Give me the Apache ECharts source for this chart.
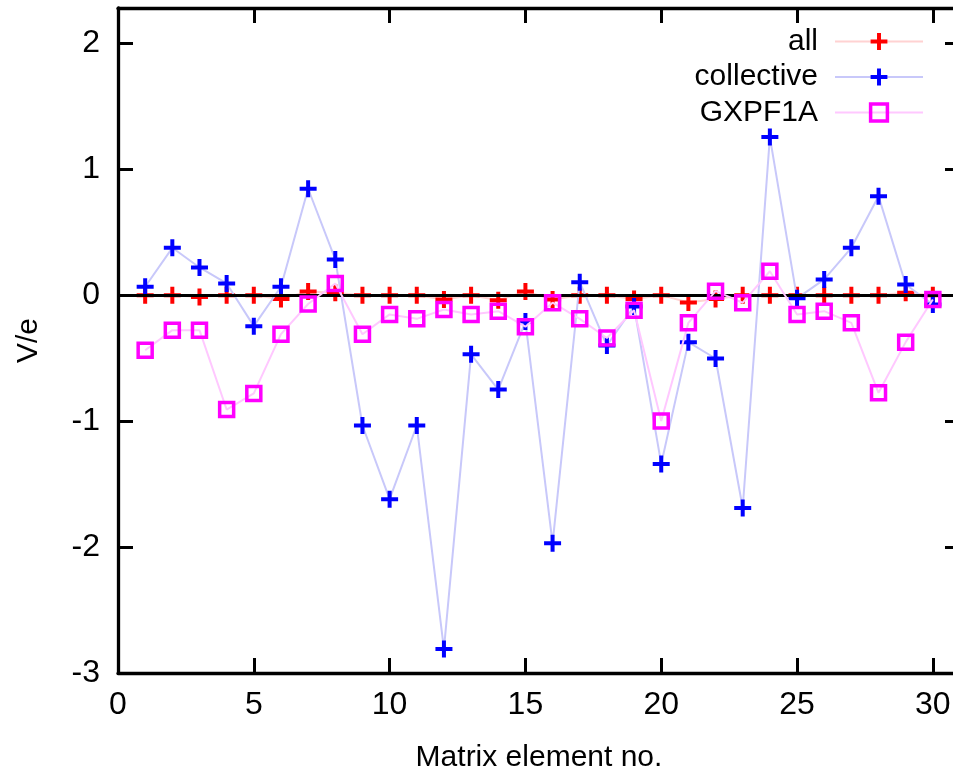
<!DOCTYPE html>
<html>
<head>
<meta charset="utf-8">
<script src="https://cdn.jsdelivr.net/npm/echarts@6/dist/echarts.min.js"></script>
<style>
html,body{margin:0;padding:0;background:#fff;}
#chart{width:953px;height:772px;}
</style>
</head>
<body>
<div id="chart"></div>
<script>
// ---- data ----
var elementNo = [1,2,3,4,5,6,7,8,9,10,11,12,13,14,15,16,17,18,19,20,21,22,23,24,25,26,27,28,29,30];
var allValues = [0, 0, -0.015, 0, 0, -0.03, 0.03, 0.02, 0, 0, 0, -0.034, 0, -0.04, 0.03, -0.035, 0, 0, -0.03, 0, -0.058, -0.03, 0, 0, 0, 0, 0, 0, 0.02, 0];
var collectiveValues = [0.067, 0.376, 0.22, 0.093, -0.246, 0.067, 0.845, 0.284, -1.035, -1.62, -1.035, -2.81, -0.47, -0.75, -0.21, -1.97, 0.103, -0.4, -0.09, -1.34, -0.373, -0.503, -1.69, 1.255, -0.025, 0.125, 0.376, 0.786, 0.085, -0.075];
var gxpf1aValues = [-0.437, -0.278, -0.278, -0.908, -0.78, -0.31, -0.07, 0.093, -0.31, -0.153, -0.188, -0.114, -0.153, -0.127, -0.25, -0.06, -0.188, -0.34, -0.12, -1.0, -0.22, 0.032, -0.06, 0.19, -0.153, -0.127, -0.22, -0.775, -0.373, -0.034];
var seriesNames = ['all', 'collective', 'GXPF1A'];
var xTickValues = [0, 5, 10, 15, 20, 25, 30];
var yTickValues = [-3, -2, -1, 0, 1, 2];
var xTitle = 'Matrix element no.';
var yTitle = 'V/e';

function pairs(vals){ return elementNo.map(function(x,i){ return [x, vals[i]]; }); }

var FONT = '"Liberation Sans", Arial, sans-serif';
var FS = 30;
var TFS = 32;
var PLUS = 'path://M6.5,0H10.5V6.5H17V10.5H10.5V17H6.5V10.5H0V6.5H6.5Z';

var chart = echarts.init(document.getElementById('chart'), null, {renderer:'canvas'});

function xAxisDef(pos, labels){
  return {
    type:'value', min:0, max:31, position:pos,
    axisLine:{show:true, onZero:false, lineStyle:{color:'#000', width:3.3}},
    axisTick:{show:true, inside:true, length:15, customValues:xTickValues, lineStyle:{color:'#000', width:3}},
    axisLabel:{show:labels, customValues:xTickValues, margin:16, color:'#000', fontSize:TFS, fontFamily:FONT},
    splitLine:{show:false},
    name: labels ? xTitle : '', nameLocation:'middle', nameGap:70,
    nameTextStyle:{color:'#000', fontSize:FS, fontFamily:FONT}
  };
}
function yAxisDef(pos, labels){
  return {
    type:'value', min:-3, max:2.28, position:pos,
    axisLine:{show:true, onZero:false, lineStyle:{color:'#000', width:3.3}},
    axisTick:{show:true, inside:true, length:15, customValues:yTickValues, lineStyle:{color:'#000', width:3}},
    axisLabel:{show:labels, customValues:yTickValues, margin:18, color:'#000', fontSize:TFS, fontFamily:FONT},
    splitLine:{show:false},
    name: labels ? yTitle : '', nameLocation:'middle', nameGap:74,
    nameTextStyle:{color:'#000', fontSize:FS, fontFamily:FONT}
  };
}

var option = {
  animation:false,
  backgroundColor:'#fff',
  grid:{left:118, top:8, width:842, height:665, containLabel:false, outerBoundsMode:'none'},
  xAxis:[xAxisDef('bottom', true), xAxisDef('top', false)],
  yAxis:[yAxisDef('left', true), yAxisDef('right', false)],
  legend:{
    orient:'vertical', right:24, top:21, align:'right',
    itemWidth:88, itemHeight:21, itemGap:4.5,
    data:[
      {name:seriesNames[0]},
      {name:seriesNames[1]},
      {name:seriesNames[2], itemStyle:{borderWidth:3.5, borderColor:'#ff00ff', color:'rgba(255,255,255,0)'}}
    ],
    textStyle:{color:'#000', fontSize:FS, fontFamily:FONT, lineHeight:31, padding:[0,12,0,0]}
  },
  series:[
    {
      name:seriesNames[0], type:'line', z:2, data:pairs(allValues),
      symbol:PLUS, symbolSize:17,
      itemStyle:{color:'#ff0000'},
      lineStyle:{color:'#ffd2d2', width:2}
    },
    {
      name:'', type:'line', z:3, data:[],
      markLine:{silent:true, symbol:'none', label:{show:false},
        lineStyle:{color:'#000', width:3, type:'solid'},
        data:[{yAxis:0}]}
    },
    {
      name:seriesNames[1], type:'line', z:4, data:pairs(collectiveValues),
      symbol:PLUS, symbolSize:17,
      itemStyle:{color:'#0000ff'},
      lineStyle:{color:'#c8c8fa', width:2}
    },
    {
      name:seriesNames[2], type:'line', z:5, data:pairs(gxpf1aValues),
      symbol:'rect', symbolSize:14,
      itemStyle:{color:'rgba(255,255,255,0)', borderColor:'#ff00ff', borderWidth:3.5},
      lineStyle:{color:'#ffc8ff', width:2}
    }
  ]
};
chart.setOption(option);
</script>
</body>
</html>
